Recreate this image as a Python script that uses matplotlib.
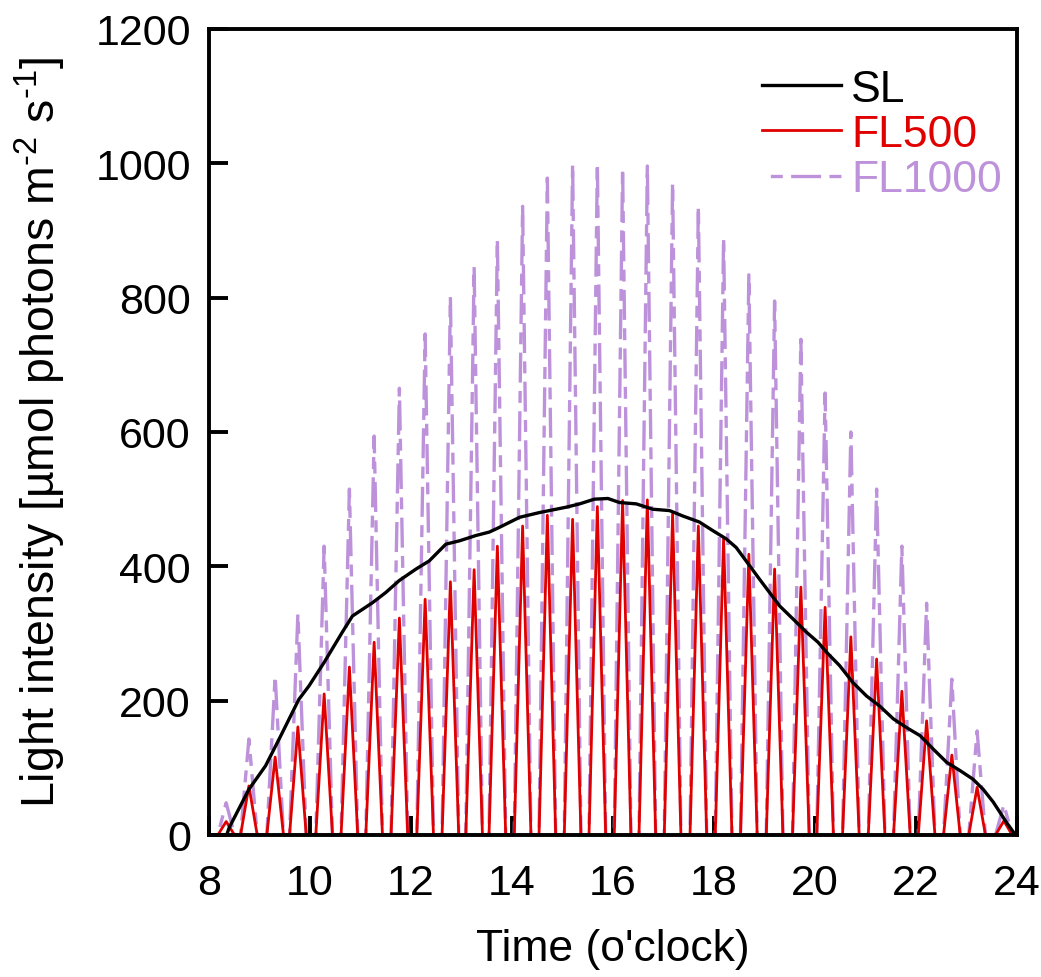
import matplotlib
matplotlib.use("Agg")
import matplotlib.pyplot as plt
import numpy as np

plt.rcParams['font.family'] = ['Liberation Sans', 'DejaVu Sans']
plt.rcParams['mathtext.fontset'] = 'custom'
plt.rcParams['mathtext.rm'] = 'Liberation Sans'
plt.rcParams['mathtext.default'] = 'regular'
plt.rcParams['lines.scale_dashes'] = False

# ---- data ----
pulse_times = [8.34, 8.79, 9.31, 9.76, 10.28, 10.78, 11.27, 11.77, 12.28, 12.78,
               13.25, 13.71, 14.21, 14.70, 15.20, 15.69, 16.19, 16.68, 17.18, 17.69,
               18.19, 18.69, 19.20, 19.72, 20.20, 20.71, 21.22, 21.72, 22.21, 22.71,
               23.21, 23.74]
fl500_peaks = [20, 73, 116, 161, 210, 250, 287, 323, 351, 377,
               395, 430, 460, 476, 470, 489, 498, 499, 478, 460,
               442, 418, 396, 369, 339, 295, 262, 214, 170, 119,
               71, 21]
fl1000_peaks = [48, 143, 237, 329, 430, 515, 594, 665, 746, 801,
                846, 887, 936, 978, 999, 1000, 993, 996, 971, 936,
                889, 834, 795, 738, 658, 600, 515, 430, 345, 232,
                155, 45]

sl_time = [8.35, 8.40, 8.79, 9.12, 9.39, 9.78, 9.98, 10.28, 10.64, 10.84,
           11.24, 11.50, 11.77, 12.10, 12.36, 12.69, 12.96, 13.29, 13.55, 13.75,
           14.15, 14.54, 15.07, 15.34, 15.63, 15.90, 16.13, 16.46, 16.79, 17.12,
           17.38, 17.71, 17.98, 18.24, 18.44, 18.90, 19.30, 19.56, 19.83, 20.06,
           20.23, 20.49, 20.75, 21.02, 21.28, 21.55, 21.81, 22.08, 22.34, 22.61,
           22.87, 23.13, 23.33, 23.53, 23.79, 23.96]
sl_values = [0, 11, 68, 103, 143, 202, 222, 257, 302, 326,
             346, 361, 379, 396, 408, 433, 438, 446, 451, 458,
             473, 480, 488, 493, 500, 501, 495, 493, 485, 483,
             475, 466, 453, 441, 428, 381, 341, 322, 302, 287,
             272, 252, 227, 207, 192, 173, 160, 148, 128, 108,
             96, 83, 68, 49, 19, 1]

x_ticks = [8, 10, 12, 14, 16, 18, 20, 22, 24]
y_ticks = [0, 200, 400, 600, 800, 1000, 1200]

half_width = 0.165


def pulse_series(times, peaks):
    xs, ys = [], []
    for t, p in zip(times, peaks):
        xs += [t - half_width, t, t + half_width]
        ys += [0, p, 0]
    return xs, ys


W, H = 1041, 978
fig = plt.figure(figsize=(W / 100, H / 100), dpi=100)
ax = fig.add_axes([209 / W, 1 - 836 / H, (1017 - 209) / W, (836 - 30) / H])

red = '#e00000'
lav = '#bd92db'

x1, y1 = pulse_series(pulse_times, fl1000_peaks)
x5, y5 = pulse_series(pulse_times, fl500_peaks)

ax.plot(x1, y1, color=lav, lw=2.4, linestyle=(21.6, (21.6, 6.0, 8.6, 6.0)), label='FL1000', zorder=2)
ax.plot(x5, y5, color=red, lw=2.0, label='FL500', zorder=2.1)
ax.plot(sl_time, sl_values, color='black', lw=2.4, label='SL', zorder=2.2)

ax.set_xlim(8, 24)
ax.set_ylim(0, 1200)
ax.set_xticks(x_ticks)
ax.set_yticks(y_ticks)
ax.tick_params(direction='in', length=14, width=2.8, labelsize=31)
ax.tick_params(axis='y', pad=13)
ax.tick_params(axis='x', pad=20)
for s in ax.spines.values():
    s.set_linewidth(2.8)

ax.set_xlabel("Time (o'clock)", fontsize=32, labelpad=18)
ax.set_ylabel("Light intensity [µmol photons m$^{\u20102}$ s$^{\u20101}$]",
              fontsize=33.5, labelpad=20)

handles, labels = ax.get_legend_handles_labels()
order = [2, 1, 0]
leg = ax.legend([handles[i] for i in order], [labels[i] for i in order],
                loc='upper right', bbox_to_anchor=(1.014, 0.984), frameon=False,
                fontsize=32, handlelength=1.78, handletextpad=0.22, labelspacing=0.1,
                borderaxespad=0.2)
for txt, c in zip(leg.get_texts(), ['black', red, lav]):
    txt.set_color(c)

fig.savefig('out.png', dpi=100)
